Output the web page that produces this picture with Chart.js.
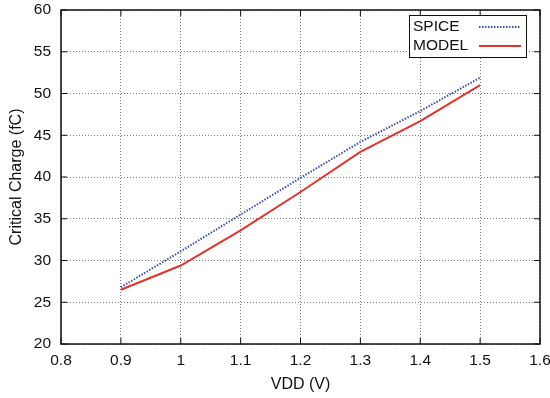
<!DOCTYPE html>
<html>
<head>
<meta charset="utf-8">
<script src="https://cdn.jsdelivr.net/npm/chart.js@4/dist/chart.umd.min.js"></script>
<style>
html,body{margin:0;padding:0;background:#fff;}
#wrap{width:550px;height:398px;}
</style>
</head>
<body>
<div id="wrap"><canvas id="c" width="550" height="398"></canvas></div>
<script>
const vdd = [0.9, 1.0, 1.1, 1.2, 1.3, 1.4, 1.5];
const spice = [26.8, 31.1, 35.5, 39.9, 44.2, 47.9, 51.9];
const model = [26.5, 29.4, 33.6, 38.2, 43.0, 46.7, 51.0];
const xTicks = [0.8, 0.9, 1.0, 1.1, 1.2, 1.3, 1.4, 1.5, 1.6];
const yTicks = [20, 25, 30, 35, 40, 45, 50, 55, 60];

const FONT = 'Liberation Sans, Arial, Helvetica, sans-serif';

const framePlugin = {
  id: 'frame',
  afterDraw(chart) {
    const {ctx, chartArea: a, scales} = chart;
    ctx.save();
    ctx.strokeStyle = '#111';
    ctx.lineWidth = 1.5;
    ctx.setLineDash([]);
    ctx.strokeRect(a.left, a.top, a.right - a.left, a.bottom - a.top);
    ctx.lineWidth = 1;
    const L = 6;
    xTicks.forEach(v => {
      const x = scales.x.getPixelForValue(v);
      ctx.beginPath();
      ctx.moveTo(x, a.bottom); ctx.lineTo(x, a.bottom - L);
      ctx.moveTo(x, a.top); ctx.lineTo(x, a.top + L);
      ctx.stroke();
    });
    yTicks.forEach(v => {
      const y = scales.y.getPixelForValue(v);
      ctx.beginPath();
      ctx.moveTo(a.left, y); ctx.lineTo(a.left + L, y);
      ctx.moveTo(a.right, y); ctx.lineTo(a.right - L, y);
      ctx.stroke();
    });
    // legend
    const bx = 409, by = 15, bw = 117, bh = 42;
    ctx.fillStyle = '#fff';
    ctx.fillRect(bx, by, bw, bh);
    ctx.strokeStyle = '#111';
    ctx.lineWidth = 1;
    ctx.strokeRect(bx + 0.5, by + 0.5, bw, bh);
    ctx.font = '15.5px ' + FONT;
    ctx.fillStyle = '#111';
    ctx.textBaseline = 'middle';
    ctx.textAlign = 'left';
    const rows = [26, 45];
    chart.data.datasets.forEach((ds, i) => {
      const y = rows[i];
      ctx.fillText(ds.label, 413, y + 1);
      ctx.strokeStyle = ds.borderColor;
      ctx.lineWidth = ds.borderWidth;
      ctx.setLineDash(ds.borderDash || []);
      ctx.beginPath();
      ctx.moveTo(479, y + 1);
      ctx.lineTo(521, y + 1);
      ctx.stroke();
    });
    ctx.restore();
  }
};

new Chart(document.getElementById('c'), {
  type: 'line',
  data: {
    datasets: [
      {
        label: 'SPICE',
        data: vdd.map((x, i) => ({x, y: spice[i]})),
        borderColor: '#3a4fb0',
        borderWidth: 2,
        borderDash: [1.5, 1.5],
        pointRadius: 0,
        fill: false,
        tension: 0
      },
      {
        label: 'MODEL',
        data: vdd.map((x, i) => ({x, y: model[i]})),
        borderColor: '#e3332b',
        borderWidth: 2,
        pointRadius: 0,
        fill: false,
        tension: 0
      }
    ]
  },
  options: {
    responsive: false,
    animation: false,
    devicePixelRatio: 1,
    layout: {padding: {left: 0, right: 10, top: 10, bottom: 0}},
    plugins: {legend: {display: false}, tooltip: {enabled: false}},
    scales: {
      x: {
        type: 'linear',
        min: 0.8, max: 1.6,
        afterBuildTicks: s => { s.ticks = xTicks.map(v => ({value: v})); },
        afterFit: s => { s.height = 54; s.paddingLeft = 0; s.paddingRight = 0; },
        grid: {color: '#777', lineWidth: 1, drawTicks: false},
        border: {display: false, dash: [1, 2]},
        ticks: {
          padding: 7,
          color: '#111',
          font: {family: FONT, size: 15.5},
          callback: v => String(Math.round(v * 10) / 10),
          maxRotation: 0
        },
        title: {display: true, text: 'VDD (V)', color: '#111', font: {family: FONT, size: 16}, padding: {top: 0, bottom: 4}}
      },
      y: {
        type: 'linear',
        min: 20, max: 60,
        afterBuildTicks: s => { s.ticks = yTicks.map(v => ({value: v})); },
        afterFit: s => { s.width = 61; s.paddingTop = 0; s.paddingBottom = 0; },
        grid: {color: '#777', lineWidth: 1, drawTicks: false},
        border: {display: false, dash: [1, 2]},
        ticks: {padding: 10, color: '#111', font: {family: FONT, size: 15.5}},
        title: {display: true, text: 'Critical Charge (fC)', color: '#111', font: {family: FONT, size: 16}, padding: {top: 7, bottom: 0}}
      }
    }
  },
  plugins: [framePlugin]
});
</script>
</body>
</html>
